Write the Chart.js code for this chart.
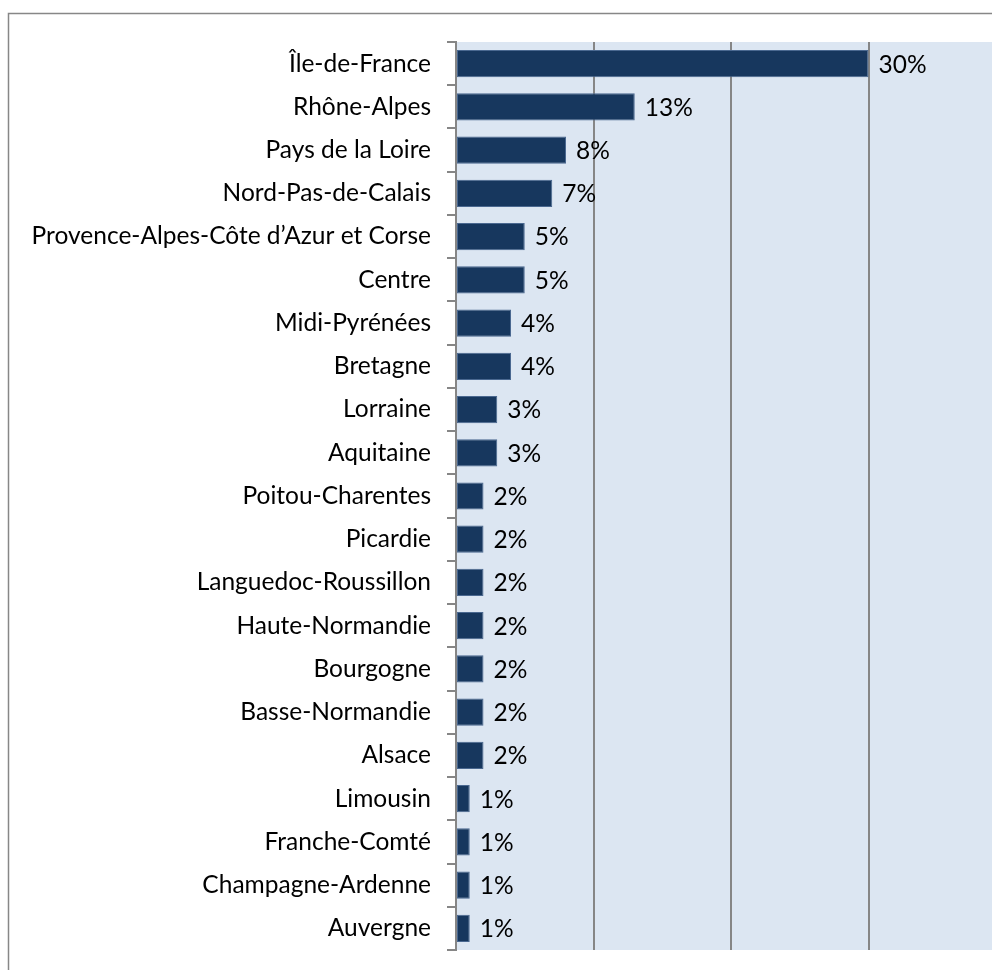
<!DOCTYPE html>
<html>
<head>
<meta charset="utf-8">
<script src="https://cdn.jsdelivr.net/npm/chart.js@4.4.1/dist/chart.umd.min.js"></script>
<style>
  html, body { margin: 0; padding: 0; background: #ffffff; overflow: hidden; }
  #wrap { position: absolute; left: 0; top: 0; width: 1006px; height: 970px; }
</style>
</head>
<body>
<div id="wrap"><canvas id="c"></canvas></div>
<script>
const regions = [
  "Île-de-France", "Rhône-Alpes", "Pays de la Loire", "Nord-Pas-de-Calais",
  "Provence-Alpes-Côte d’Azur et Corse", "Centre", "Midi-Pyrénées", "Bretagne",
  "Lorraine", "Aquitaine", "Poitou-Charentes", "Picardie", "Languedoc-Roussillon",
  "Haute-Normandie", "Bourgogne", "Basse-Normandie", "Alsace", "Limousin",
  "Franche-Comté", "Champagne-Ardenne", "Auvergne"
];
const shares = [
  0.30, 0.13, 0.08, 0.07, 0.05, 0.05, 0.04, 0.04, 0.03, 0.03,
  0.02, 0.02, 0.02, 0.02, 0.02, 0.02, 0.02, 0.01, 0.01, 0.01, 0.01
];
const xTicks = [0, 0.1, 0.2, 0.3, 0.4];

const FONT = "Lato";
const FSIZE = 24.5;

const framePlugin = {
  id: 'frame',
  beforeDraw(chart) {
    const ctx = chart.ctx, a = chart.chartArea;
    ctx.save();
    ctx.fillStyle = '#ffffff';
    ctx.fillRect(0, 0, chart.width, chart.height);
    ctx.strokeStyle = '#878787';
    ctx.lineWidth = 1.5;
    ctx.beginPath();
    ctx.moveTo(8.5, chart.height);
    ctx.lineTo(8.5, 13.5);
    ctx.lineTo(chart.width, 13.5);
    ctx.stroke();
    ctx.fillStyle = '#dce6f2';
    ctx.fillRect(a.left, a.top, a.right - a.left, a.bottom - a.top);
    ctx.restore();
  }
};

const valueLabels = {
  id: 'valueLabels',
  afterDatasetsDraw(chart) {
    const ctx = chart.ctx;
    const meta = chart.getDatasetMeta(0);
    ctx.save();
    ctx.font = FSIZE + 'px ' + FONT;
    ctx.fillStyle = '#000000';
    ctx.textAlign = 'left';
    ctx.textBaseline = 'middle';
    meta.data.forEach((bar, i) => {
      const v = chart.data.datasets[0].data[i];
      ctx.fillText(Math.round(v * 100) + '%', bar.x + 10, bar.y + 1);
    });
    ctx.restore();
  }
};

new Chart(document.getElementById('c'), {
  type: 'bar',
  data: {
    labels: regions,
    datasets: [{
      data: shares,
      backgroundColor: '#17375e',
      borderColor: '#4a6890',
      borderWidth: 1,
      borderSkipped: false,
      categoryPercentage: 1.0,
      barPercentage: 0.63
    }]
  },
  options: {
    indexAxis: 'y',
    responsive: true,
    maintainAspectRatio: false,
    animation: false,
    layout: { padding: { top: 42, left: 0, right: 0, bottom: 0 } },
    plugins: { legend: { display: false }, tooltip: { enabled: false } },
    scales: {
      x: {
        min: 0, max: 0.4,
        afterBuildTicks(axis) { axis.ticks = xTicks.map(v => ({ value: v })); },
        afterFit(scale) { scale.height = 20; scale.paddingLeft = 0; scale.paddingRight = 0; },
        ticks: { display: false },
        grid: { color: '#868686', lineWidth: 2, drawTicks: false },
        border: { display: false }
      },
      y: {
        afterFit(scale) { scale.width = 456; scale.paddingTop = 0; scale.paddingBottom = 0; },
        ticks: {
          autoSkip: false,
          padding: 16,
          color: '#000000',
          font: { family: FONT, size: FSIZE }
        },
        grid: { drawOnChartArea: false, drawTicks: true, tickLength: 9, color: '#868686', lineWidth: 2, offset: true },
        border: { display: true, color: '#868686', width: 2 }
      }
    }
  },
  plugins: [framePlugin, valueLabels]
});
</script>
</body>
</html>
